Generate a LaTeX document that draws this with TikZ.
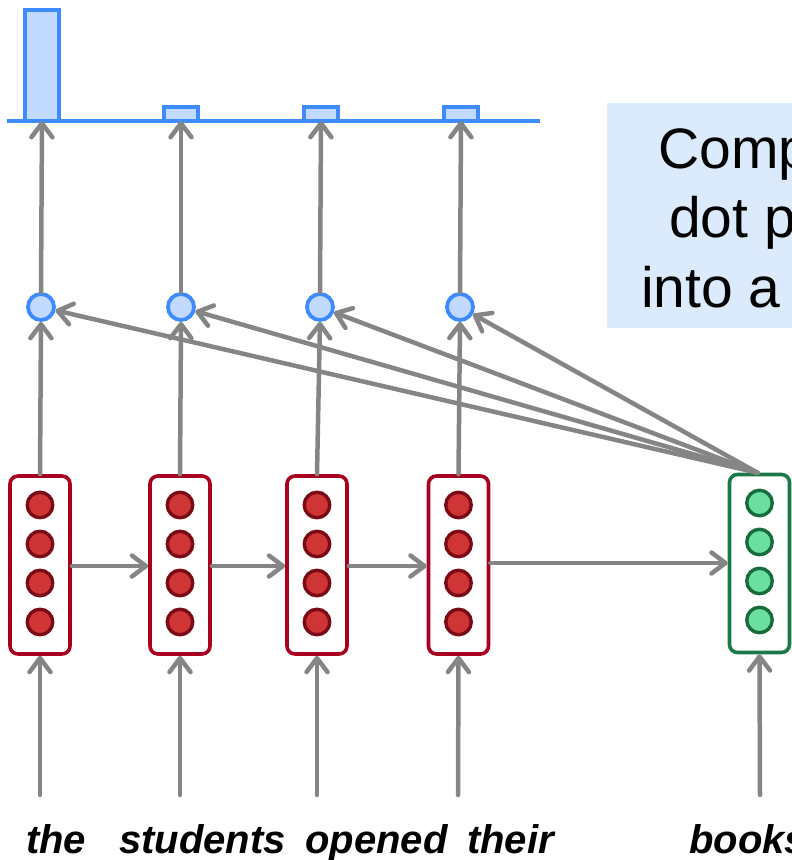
\documentclass[tikz,border=0pt]{standalone}
\usepackage{fontspec}
\setmainfont{Liberation Sans}
\usetikzlibrary{arrows.meta}

\definecolor{arrowgray}{HTML}{858585}
\definecolor{rnnred}{HTML}{A8001E}
\definecolor{dotred}{HTML}{CF3535}
\definecolor{dotredline}{HTML}{7A0A16}
\definecolor{qgreen}{HTML}{1B7A47}
\definecolor{dotgreen}{HTML}{6ADFA0}
\definecolor{dotgreenline}{HTML}{176B3D}
\definecolor{attblue}{HTML}{3D8BFF}
\definecolor{attfill}{HTML}{C2DAFF}
\definecolor{notefill}{HTML}{DCEBFC}

\tikzset{
  conn/.style={draw=arrowgray, line width=4.5pt, line cap=round,
    -{Straight Barb[length=14pt,width=21pt,round]}},
  statebox/.style={rectangle, rounded corners=8pt, draw=rnnred, fill=white,
    line width=3.6pt, minimum width=60pt, minimum height=178pt, inner sep=0pt},
  querybox/.style={statebox, draw=qgreen},
  unitred/.style={circle, draw=dotredline, fill=dotred, line width=3.4pt,
    minimum size=25.5pt, inner sep=0pt},
  unitgreen/.style={circle, draw=dotgreenline, fill=dotgreen, line width=3.4pt,
    minimum size=25.5pt, inner sep=0pt},
  score/.style={circle, draw=attblue, fill=attfill, line width=3.8pt,
    minimum size=26pt, inner sep=0pt},
  bar/.style={draw=attblue, fill=attfill, line width=4pt},
  word/.style={anchor=base west, inner sep=0pt,
    font=\fontsize{40}{48}\selectfont\bfseries\itshape},
  noteline/.style={anchor=base west, inner sep=0pt,
    font=\fontsize{57}{68}\selectfont}
}

\begin{document}
\begin{tikzpicture}[x=1pt,y=-1pt]
\useasboundingbox (0,0) rectangle (792,860);
\clip (0,0) rectangle (792,860);

% note box
\fill[notefill] (607,103) rectangle (800,328);
\node[noteline] (n1) at (658,168) {Compute};
\node[noteline] (n2) at (669,237.5) {dot products};
\node[noteline] (n3) at (641,307) {into a softmax};

% attention distribution
\draw[bar] (25,10) rectangle (59,121);
\draw[bar] (164,107) rectangle (198,121);
\draw[bar] (304,107) rectangle (338,121);
\draw[bar] (444,107) rectangle (478,121);
\draw[attblue, line width=4pt] (7,121) -- (540,121);
\coordinate (p1) at (42,121);
\coordinate (p2) at (181,121);
\coordinate (p3) at (321,121);
\coordinate (p4) at (461,121);

% encoder states
\foreach \i/\x in {1/40, 2/180, 3/317, 4/458.5} {
  \node[statebox] (h\i) at (\x,565) {};
  \foreach \j/\y in {1/505, 2/544, 3/583, 4/622}
    \node[unitred] (h\i u\j) at (\x,\y) {};
}

% query state
\node[querybox] (q) at (759.5,563.5) {};
\foreach \j/\y in {1/503, 2/542, 3/581, 4/620}
  \node[unitgreen] (q u\j) at (759.5,\y) {};

% attention scores
\node[score] (s1) at (41,307) {};
\node[score] (s2) at (181,307) {};
\node[score] (s3) at (320,307) {};
\node[score] (s4) at (460,307) {};

% input words
\node[word] (w1) at (26,853) {the};
\node[word] (w2) at (119,853) {students};
\node[word] (w3) at (305,853) {opened};
\node[word] (w4) at (467,853) {their};
\node[word] (w5) at (689,853) {books};

\coordinate (x1) at (40,795);
\coordinate (x2) at (180,795);
\coordinate (x3) at (317,795);
\coordinate (x4) at (458,795);
\coordinate (x5) at (760,795);

% connectors
\foreach \i in {1,...,4} {
  \draw[conn] (x\i) -- (h\i.south);
  \draw[conn] (h\i.north) -- (s\i.south);
  \draw[conn] (s\i.north) -- (p\i);
}
\draw[conn] (x5) -- (q.south);
\draw[conn] (h1.east |- 0,566) -- (h2.west |- 0,566);
\draw[conn] (h2.east |- 0,566) -- (h3.west |- 0,566);
\draw[conn] (h3.east |- 0,566) -- (h4.west |- 0,566);
\draw[conn] (h4.east |- 0,563) -- (q.west |- 0,563);
\foreach \i in {1,...,4}
  \draw[conn] ([xshift=-2pt]q.north) -- (s\i);
\end{tikzpicture}
\end{document}
